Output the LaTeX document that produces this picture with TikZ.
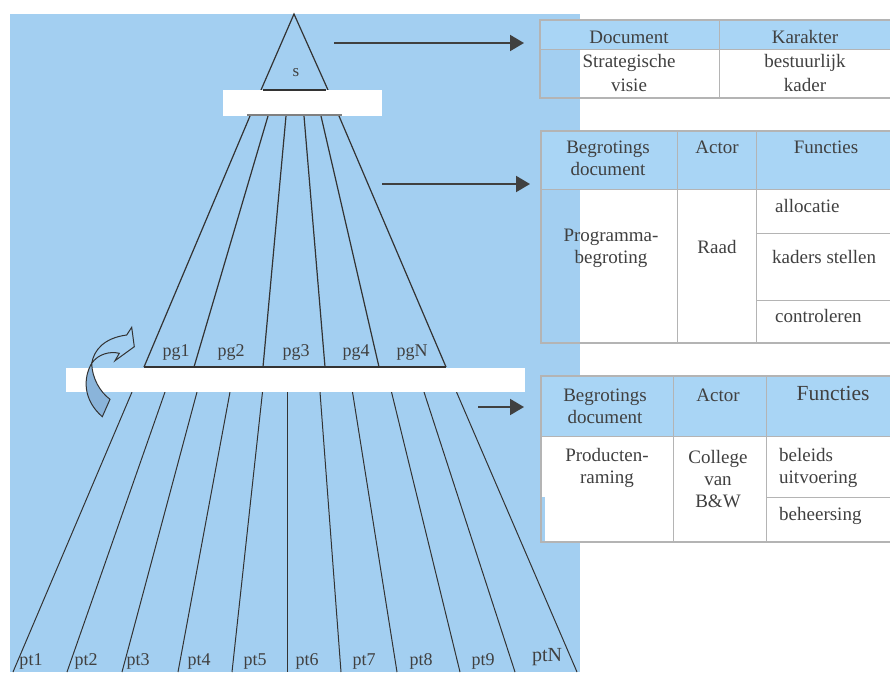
\documentclass[tikz,border=0pt]{standalone}
\usepackage{fontspec}
\setmainfont{Liberation Serif}
\usetikzlibrary{arrows.meta}

\definecolor{achterblauw}{HTML}{A3CFF1}
\definecolor{kopblauw}{HTML}{A9D5F5}
\definecolor{pijlblauw}{HTML}{8AB4DA}
\definecolor{randgrijs}{HTML}{B4B4B4}
\definecolor{tekstgrijs}{HTML}{404040}
\definecolor{lijngrijs}{HTML}{333333}

\tikzset{
    lbl/.style={text=tekstgrijs, font=\fontsize{19}{22}\selectfont, align=center, inner sep=0pt, anchor=base},
    lbllinks/.style={lbl, anchor=base west},
    fanlbl/.style={text=tekstgrijs, font=\fontsize{18}{20}\selectfont, inner sep=0pt, anchor=base},
    waaier/.style={draw=lijngrijs, line width=1.2pt},
    tabrand/.style={draw=randgrijs, line width=2pt},
    tabgrid/.style={draw=randgrijs, line width=1pt},
    pijl/.style={draw=tekstgrijs, line width=2pt, -{Triangle[length=14pt,width=16pt]}}
}

\begin{document}
\begin{tikzpicture}[x=1pt,y=-1pt]
    \useasboundingbox (0,0) rectangle (890,672);
    \fill[achterblauw] (10,14) rectangle (580,672);

    % strategische visie
    \draw[waaier] (261,90) -- (294,14) -- (328,90);
    \node[fanlbl, font=\fontsize{17}{18}\selectfont] (s) at (296,76) {s};

    % programma's
    \foreach \tx/\bx in {250/144, 268/194, 286/263, 304/325, 321/379, 339/446}
        \draw[waaier] (\tx,116) -- (\bx,367);

    % producten
    \foreach \tx/\bx in {132/13, 165/67, 197/122, 230/178, 262.5/232, 287/287,
                         320/341, 352.5/397, 391.5/460, 424/515, 456.5/577}
        \draw[waaier, line width=1pt] (\tx,392) -- (\bx,672);

    \fill[white] (223,90) rectangle (382,116);
    \fill[white] (66,368) rectangle (525,392);
    \draw[lijngrijs, line width=1.5pt] (263,90) -- (326,90);
    \draw[gray, line width=2pt] (247,115) -- (342,115);
    \draw[lijngrijs, line width=1.5pt] (144,367) -- (446,367);

    \foreach \nm/\x in {pg1/176, pg2/231, pg3/296, pg4/356, pgN/412}
        \node[fanlbl] (\nm) at (\x,356) {\nm};
    \foreach \nm/\x in {pt1/31, pt2/86, pt3/138, pt4/199, pt5/255,
                        pt6/307, pt7/364, pt8/421, pt9/483}
        \node[fanlbl] (\nm) at (\x,665) {\nm};
    \node[fanlbl, font=\fontsize{20}{22}\selectfont] (ptN) at (547,661) {ptN};

    % gebogen pijl
    \filldraw[fill=pijlblauw, draw=lijngrijs, line width=1pt]
        (91.7,363.3) .. controls (83,378) and (83,400) .. (102.3,416.7)
        -- (110,399.3) .. controls (100,392) and (92,378) .. (91.7,363.3) -- cycle;
    \filldraw[fill=achterblauw, draw=lijngrijs, line width=1pt]
        (91.7,363.3) .. controls (94,350) and (104,338) .. (126.7,335)
        -- (131.7,327.3) -- (134.3,346.7) -- (115,360.7) -- (119.3,353.3)
        .. controls (110,351) and (98,354) .. (91.7,363.3) -- cycle;

    % tabel 1
    \fill[kopblauw] (540,20) rectangle (895,49);
    \fill[white] (580,49) rectangle (895,98);
    \draw[tabgrid] (540,49) -- (895,49);
    \draw[tabgrid] (719,20) -- (719,98);
    \draw[tabrand] (540,20) rectangle (895,98);
    \node[lbl] (doc1) at (629,43) {Document};
    \node[lbl] (kar1) at (805,43) {Karakter};
    \node[lbl] (visie) at (629,91) {Strategische\\[2pt]visie};
    \node[lbl] (kader) at (805,91) {bestuurlijk\\[2pt]kader};

    % tabel 2
    \fill[kopblauw] (541,131) rectangle (895,189);
    \fill[white] (580,189) rectangle (895,343);
    \draw[tabgrid] (541,189) -- (895,189);
    \draw[tabgrid] (677,131) -- (677,343);
    \draw[tabgrid] (756,131) -- (756,343);
    \draw[tabgrid] (756,233) -- (895,233);
    \draw[tabgrid] (756,300) -- (895,300);
    \draw[tabrand] (541,131) rectangle (895,343);
    \node[lbl] (doc2) at (608,175) {Begrotings\\document};
    \node[lbl] (act2) at (717,153) {Actor};
    \node[lbl] (fun2) at (826,153) {Functies};
    \node[lbl] (progbeg) at (611,263) {Programma-\\begroting};
    \node[lbl] (raad) at (717,253) {Raad};
    \node[lbllinks] (alloc) at (775,212) {allocatie};
    \node[lbllinks] (kaders) at (772,263) {kaders stellen};
    \node[lbllinks] (contr) at (775,322) {controleren};

    % tabel 3
    \fill[kopblauw] (541,376) rectangle (895,436);
    \fill[white] (541,436) rectangle (895,542);
    \fill[achterblauw] (541,497) rectangle (545,542);
    \draw[tabgrid] (541,436) -- (895,436);
    \draw[tabgrid] (673,376) -- (673,542);
    \draw[tabgrid] (766,376) -- (766,542);
    \draw[tabgrid] (766,497) -- (895,497);
    \draw[tabrand] (541,376) rectangle (895,542);
    \node[lbl] (doc3) at (605,423) {Begrotings\\document};
    \node[lbl] (act3) at (718,401) {Actor};
    \node[lbl, font=\fontsize{21.5}{24}\selectfont] (fun3) at (833,400) {Functies};
    \node[lbl] (prodram) at (607,483) {Producten-\\raming};
    \node[lbl] (college) at (718,507) {College\\van\\B\&W};
    \node[lbllinks, align=left] (uitv) at (779,483) {beleids\\uitvoering};
    \node[lbllinks] (beheer) at (779,520) {beheersing};

    % pijlen naar de tabellen
    \coordinate (vanS) at (334,43);
    \coordinate (naarT1) at (524,43);
    \coordinate (vanPG) at (382,184);
    \coordinate (naarT2) at (530,184);
    \coordinate (vanPT) at (478,407);
    \coordinate (naarT3) at (524,407);
    \draw[pijl] (vanS) -- (naarT1);
    \draw[pijl] (vanPG) -- (naarT2);
    \draw[pijl] (vanPT) -- (naarT3);
\end{tikzpicture}
\end{document}
